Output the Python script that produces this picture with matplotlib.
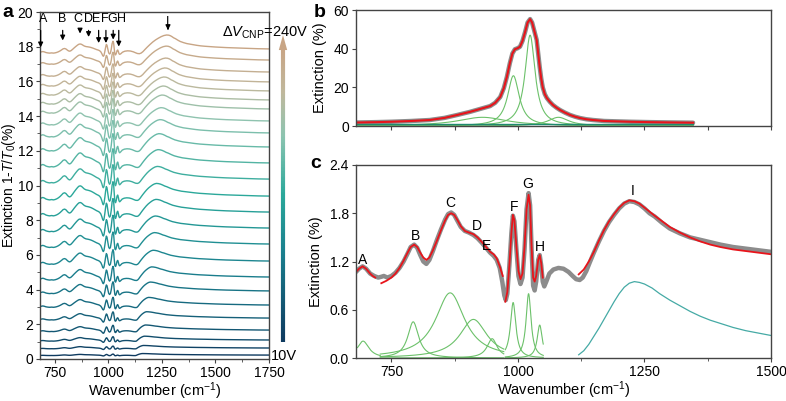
import numpy as np
import matplotlib
matplotlib.use("Agg")
import matplotlib.pyplot as plt
from matplotlib.colors import LinearSegmentedColormap
from matplotlib.collections import LineCollection
from matplotlib.patches import Polygon
from matplotlib.ticker import MultipleLocator, NullFormatter

plt.rcParams['font.family'] = ['Liberation Sans', 'DejaVu Sans']
plt.rcParams['mathtext.fontset'] = 'custom'
plt.rcParams['mathtext.rm'] = 'Liberation Sans'
plt.rcParams['mathtext.it'] = 'Liberation Sans:italic'
plt.rcParams['font.size'] = 10

# ---------------- panel c: measured spectrum (grey) ----------------
c_wn = [680, 686, 693, 700, 708, 716, 724, 730, 735, 742, 750, 758, 766, 774, 782, 788,
        795, 801, 807, 813, 819, 825, 832, 840, 848, 856, 862, 868, 874, 880, 887, 895,
        903, 912, 920, 929, 937, 945, 952, 958, 964, 969, 973, 976, 979, 983, 987, 990,
        993, 997, 1001, 1005, 1009, 1013, 1017, 1021, 1024, 1027, 1030, 1033, 1036, 1040,
        1043, 1046, 1049, 1052, 1056, 1062, 1070, 1080, 1090, 1100, 1108, 1115, 1122, 1128,
        1135, 1142, 1150, 1160, 1170, 1180, 1190, 1200, 1210, 1220, 1230, 1240, 1250, 1260,
        1270, 1285, 1300, 1320, 1340, 1360, 1380, 1400, 1425, 1450, 1475, 1500]
c_meas = [1.07, 1.11, 1.14, 1.11, 1.05, 1.02, 1.00, 1.01, 1.02, 1.00, 1.02, 1.06, 1.12, 1.20,
          1.30, 1.38, 1.41, 1.37, 1.28, 1.20, 1.17, 1.22, 1.33, 1.47, 1.60, 1.72, 1.79, 1.81,
          1.78, 1.71, 1.63, 1.58, 1.56, 1.53, 1.49, 1.43, 1.37, 1.31, 1.27, 1.22, 1.12, 0.95,
          0.78, 0.72, 0.80, 1.15, 1.55, 1.77, 1.70, 1.35, 1.02, 0.92, 1.00, 1.35, 1.85, 2.05,
          1.90, 1.35, 0.90, 0.84, 0.95, 1.22, 1.28, 1.15, 0.95, 0.89, 0.95, 1.05, 1.10, 1.12,
          1.11, 1.07, 1.02, 0.98, 0.97, 1.00, 1.08, 1.19, 1.31, 1.45, 1.58, 1.69, 1.78, 1.86,
          1.92, 1.95, 1.94, 1.91, 1.86, 1.80, 1.76, 1.68, 1.61, 1.55, 1.50, 1.47, 1.44, 1.41,
          1.38, 1.36, 1.34, 1.32]

# fit segments (red)
fit1_wn = [680, 686, 693, 700, 708, 713, 718]
fit1 = [1.07, 1.11, 1.14, 1.11, 1.05, 1.02, 1.00]
fit2_wn = [730, 740, 750, 758, 766, 774, 782, 788, 795, 801, 807, 813, 819, 825, 832, 840,
           848, 856, 862, 868, 874, 880, 887, 895, 903, 912, 920, 929, 937, 945, 952, 958,
           964, 970]
fit2 = [0.93, 0.96, 1.00, 1.05, 1.12, 1.21, 1.31, 1.38, 1.41, 1.38, 1.31, 1.25, 1.22, 1.25,
        1.34, 1.46, 1.59, 1.71, 1.78, 1.80, 1.78, 1.72, 1.64, 1.58, 1.56, 1.54, 1.50, 1.44,
        1.38, 1.32, 1.29, 1.24, 1.14, 1.02]
fit3_wn = [975, 979, 983, 987, 990, 993, 997, 1001, 1005, 1009, 1013, 1017, 1021, 1024,
           1027, 1030, 1033, 1036, 1040, 1043, 1046, 1049]
fit3 = [0.70, 0.82, 1.15, 1.55, 1.78, 1.71, 1.38, 1.08, 0.98, 1.05, 1.38, 1.85, 2.03, 1.90,
        1.38, 1.00, 0.95, 1.02, 1.22, 1.28, 1.18, 1.00]
fit4_wn = [1120, 1130, 1140, 1150, 1160, 1170, 1180, 1190, 1200, 1210, 1220, 1230, 1240,
           1250, 1260, 1270, 1285, 1300, 1320, 1340, 1360, 1380, 1400, 1425, 1450, 1475, 1500]
fit4 = [1.04, 1.10, 1.20, 1.32, 1.46, 1.59, 1.70, 1.79, 1.87, 1.93, 1.96, 1.95, 1.92, 1.87,
        1.82, 1.77, 1.70, 1.63, 1.56, 1.50, 1.45, 1.41, 1.38, 1.35, 1.33, 1.31, 1.29]

# Lorentzian components: center, amplitude, half width, fitted range
c_peak_names = ['A', 'B', 'C', 'D', 'E', 'F', 'G', 'H']
c_center = [694, 793, 866, 912, 949, 990.5, 1021, 1043]
c_amp = [0.21, 0.45, 0.81, 0.48, 0.24, 0.69, 0.80, 0.41]
c_hwhm = [14, 13, 35, 33, 12, 6.5, 6, 6]
c_lo = [683, 728, 728, 728, 728, 975, 975, 975]
c_hi = [728, 972, 972, 972, 972, 1050, 1050, 1050]
# plasmon component I (teal)
i_wn = [1120, 1130, 1140, 1150, 1160, 1170, 1180, 1190, 1200, 1210, 1220, 1230, 1240, 1250,
        1265, 1280, 1300, 1320, 1340, 1360, 1380, 1400, 1425, 1450, 1475, 1500]
i_comp = [0.04, 0.09, 0.17, 0.27, 0.37, 0.48, 0.59, 0.70, 0.80, 0.88, 0.93, 0.95, 0.94, 0.92,
          0.87, 0.80, 0.72, 0.65, 0.58, 0.52, 0.47, 0.43, 0.38, 0.34, 0.31, 0.28]

c_label_wn = [693, 797, 866, 919, 938, 993, 1020, 1043, 1226]
c_label_y = [1.22, 1.52, 1.93, 1.64, 1.39, 1.88, 2.16, 1.38, 2.08]

# ---------------- panel b ----------------
b_wn = [680, 720, 750, 790, 826, 855, 880, 905, 925, 945, 955, 965, 972, 978, 984, 989, 994,
        999, 1004, 1009, 1014, 1019, 1024, 1028, 1032, 1037, 1040, 1043, 1046, 1049, 1053,
        1057, 1063, 1069, 1076, 1083, 1093, 1103, 1113, 1123, 1135, 1148, 1170, 1195, 1221,
        1260, 1300, 1346]
b_meas = [1.8, 2.0, 2.2, 2.6, 3.1, 4.2, 5.7, 7.3, 8.8, 10.3, 12.0, 15.0, 19.5, 25.3, 32.5,
          37.5, 39.7, 40.2, 41.0, 44.0, 48.5, 53.5, 55.3, 53.5, 49.5, 44.5, 37.5, 30.5, 24.5,
          20.0, 16.5, 14.5, 12.5, 10.9, 9.5, 8.3, 6.9, 5.7, 4.8, 4.1, 3.5, 3.1, 2.6, 2.4, 2.2,
          2.0, 1.85, 1.7]
b_center = [1024, 991, 930, 1080]
b_amp = [47, 26, 4.5, 4.5]
b_hwhm = [12, 14, 60, 25]
b_flat = 0.9

# ---------------- panel a: gate-dependent spectra ----------------
tail_wn = [1550, 1600, 1650, 1700, 1750]
tail_ext = [1.29, 1.27, 1.25, 1.23, 1.22]
a_offset = [0.20, 0.59, 1.03, 1.58, 2.25, 2.98, 3.77, 4.55, 5.46, 6.43, 7.34, 8.25, 9.17,
            10.15, 11.07, 11.99, 12.80, 13.49, 14.17, 14.69, 15.21, 15.73, 16.30, 16.99, 17.63]
a_amp_ph = [0.08, 0.15, 0.25, 0.35, 0.45, 0.55, 0.65, 0.75, 0.80, 0.85, 0.90, 0.95, 1.00,
            1.00, 1.00, 0.95, 0.90, 0.85, 0.80, 0.75, 0.72, 0.70, 0.68, 0.66, 0.65]
a_amp_pl = [0.12, 0.20, 0.30, 0.40, 0.50, 0.60, 0.70, 0.80, 0.85, 0.90, 0.95, 1.00, 1.00,
            1.00, 1.05, 1.05, 1.05, 1.05, 1.10, 1.10, 1.10, 1.10, 1.10, 1.10, 1.10]
a_ipeak = [1160, 1165, 1170, 1175, 1180, 1190, 1198, 1205, 1212, 1218, 1222, 1226, 1228,
           1232, 1236, 1240, 1245, 1250, 1255, 1260, 1264, 1268, 1272, 1275, 1278]
a_idip = [1126, 1127, 1128, 1129, 1130, 1131, 1132, 1133, 1133, 1134, 1135, 1136, 1137,
          1138, 1139, 1140, 1141, 1142, 1143, 1144, 1144, 1145, 1146, 1146, 1147]

a_names = ['A', 'B', 'C', 'D', 'E', 'F', 'G', 'H', 'I']
a_label_wn = [693, 786, 858, 905, 944, 983, 1018, 1060, 1278]
a_arrow_wn = [683, 786, 867, 907, 954, 988, 1022, 1048, 1278]
a_arrow_tip = [17.8, 18.2, 18.6, 18.4, 18.05, 18.05, 18.25, 17.85, 18.8]

cmap = LinearSegmentedColormap.from_list(
    'gate', [(0.0, '#0e3a5f'), (0.3, '#1a7f8e'), (0.5, '#2aa89a'), (0.7, '#8cc4b0'),
             (0.85, '#c0b89c'), (1.0, '#c8a585')])

GREEN = '#6cc16a'
SPINE = '#444444'


def style(ax):
    for s in ax.spines.values():
        s.set_color(SPINE)
        s.set_linewidth(1.0)
    ax.tick_params(which='both', direction='out', colors=SPINE, labelcolor='black',
                   labelsize=10, top=False, right=False, pad=2)
    ax.tick_params(which='major', length=3)
    ax.tick_params(which='minor', length=2)


def lor(x, c, a, w):
    return a / (1 + ((x - c) / w) ** 2)


fig = plt.figure(figsize=(7.86, 4.01), dpi=100)
W, H = 786, 401


def box(x0, y0, x1, y1):
    return [x0 / W, 1 - y1 / H, (x1 - x0) / W, (y1 - y0) / H]


# ---- panel a ----
ax = fig.add_axes(box(40, 12, 269, 359))
tw = np.array(c_wn + tail_wn, dtype=float)
tv = np.array(c_meas + tail_ext) - 1.0
ph = tw < 1060
n = len(a_offset)
for i in range(n):
    x = np.interp(tw, [680, 1050, 1124, 1225, 1450, 1750],
                  [680, 1050, a_idip[i], a_ipeak[i], 1450, 1750])
    y = a_offset[i] + np.where(ph, a_amp_ph[i], a_amp_pl[i]) * tv
    ax.plot(x, y, color=cmap(i / (n - 1)), lw=1.0)
for nm, lw_, aw, tip in zip(a_names, a_label_wn, a_arrow_wn, a_arrow_tip):
    ly, ty = (19.45, 19.2) if nm == 'I' else (19.6, 19.1)
    ax.text(lw_, ly, nm, ha='center', va='center', fontsize=9)
    ax.annotate('', xy=(aw, tip), xytext=(aw, ty),
                arrowprops=dict(arrowstyle='-|>', color='k', lw=0.9, mutation_scale=7))
ax.set_xlim(680, 1750)
ax.set_ylim(0, 20)
ax.xaxis.set_major_locator(MultipleLocator(250))
ax.xaxis.set_minor_locator(MultipleLocator(125))
ax.yaxis.set_major_locator(MultipleLocator(2))
ax.yaxis.set_minor_locator(MultipleLocator(1))
style(ax)
ax.set_xlabel('Wavenumber (cm$^{-1}$)', fontsize=10.5)
ax.xaxis.set_label_coords(0.5, -0.062)
ax.set_ylabel('Extinction 1-$T$/$T_0$(%)', fontsize=10)
ax.yaxis.set_label_coords(-0.096, 0.5)

# gradient arrow
cax = fig.add_axes(box(276, 35, 290, 342))
cax.set_xlim(0, 1)
cax.set_ylim(0, 1)
cax.axis('off')
ys = np.linspace(0, 0.955, 200)
segs = [[(0.5, ys[k]), (0.5, ys[k + 1])] for k in range(len(ys) - 1)]
cax.add_collection(LineCollection(segs, colors=[cmap(v / 0.955) for v in ys[:-1]], lw=3))
cax.add_patch(Polygon([(0.2, 0.951), (0.8, 0.951), (0.5, 1.0)], closed=True,
                      color=cmap(1.0), lw=0))
fig.text(222 / W, 1 - 37 / H, r'$\Delta V_{\rm CNP}$=240V', fontsize=10.5)
fig.text(271 / W, 1 - 360 / H, '10V', fontsize=10.5)

# ---- panel b ----
bx = fig.add_axes(box(356, 10, 771, 126))
xb = np.linspace(680, 1346, 700)
bx.plot(b_wn, b_meas, color='#8c8c8c', lw=3.2, solid_capstyle='round')
for c, a, w in zip(b_center, b_amp, b_hwhm):
    bx.plot(xb, lor(xb, c, a, w), color=GREEN, lw=0.8)
bx.plot([680, 1346], [b_flat, b_flat], color='#1f8a70', lw=1.0)
bx.plot(b_wn, b_meas, color='#e8141b', lw=1.5)
bx.set_xlim(680, 1500)
bx.set_ylim(0, 60)
bx.xaxis.set_major_locator(MultipleLocator(125))
bx.xaxis.set_major_formatter(NullFormatter())
bx.yaxis.set_major_locator(MultipleLocator(20))
style(bx)
bx.set_ylabel('Extinction (%)', fontsize=10.5)
bx.yaxis.set_label_coords(-0.07, 0.5)

# ---- panel c ----
cx = fig.add_axes(box(356, 165, 771, 358))
cx.plot(c_wn, c_meas, color='#8c8c8c', lw=3.2, solid_capstyle='round')
for c, a, w, lo, hi in zip(c_center, c_amp, c_hwhm, c_lo, c_hi):
    xx = np.linspace(lo, hi, 300)
    cx.plot(xx, lor(xx, c, a, w), color=GREEN, lw=0.8)
cx.plot(i_wn, i_comp, color='#45aaa5', lw=0.9)
for fw, fv in [(fit1_wn, fit1), (fit2_wn, fit2), (fit3_wn, fit3), (fit4_wn, fit4)]:
    cx.plot(fw, fv, color='#e8141b', lw=1.3)
for nm, xw, yv in zip(c_peak_names + ['I'], c_label_wn, c_label_y):
    cx.text(xw, yv, nm, ha='center', va='center', fontsize=10)
cx.set_xlim(680, 1500)
cx.set_ylim(0, 2.4)
cx.xaxis.set_major_locator(MultipleLocator(250))
cx.xaxis.set_minor_locator(MultipleLocator(125))
cx.yaxis.set_major_locator(MultipleLocator(0.6))
cx.yaxis.set_major_formatter(plt.FormatStrFormatter('%.1f'))
style(cx)
cx.set_xlabel('Wavenumber (cm$^{-1}$)', fontsize=10.5)
cx.xaxis.set_label_coords(0.5, -0.113)
cx.set_ylabel('Extinction (%)', fontsize=10.5)
cx.yaxis.set_label_coords(-0.08, 0.5)

# panel letters
fig.text(2 / W, 1 - 17 / H, 'a', fontsize=14, fontweight='bold')
fig.text(314 / W, 1 - 17 / H, 'b', fontsize=14, fontweight='bold')
fig.text(310 / W, 1 - 168 / H, 'c', fontsize=14, fontweight='bold')

fig.savefig('out.png', dpi=100)
